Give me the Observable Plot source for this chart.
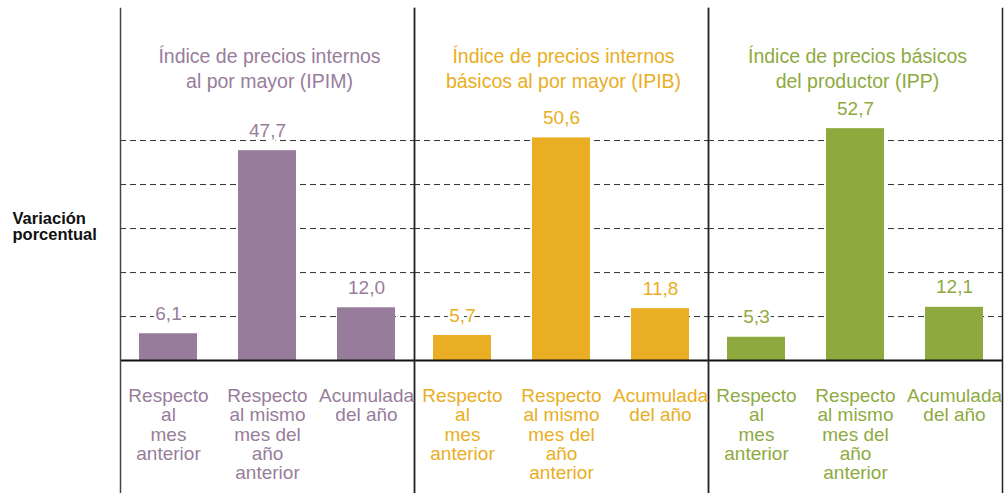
<!DOCTYPE html>
<html>
<head>
<meta charset="utf-8">
<script src="https://cdn.jsdelivr.net/npm/d3@7"></script>
<script src="https://cdn.jsdelivr.net/npm/@observablehq/plot@0.6"></script>
<style>
  html, body { margin: 0; padding: 0; background: #fff; }
  #chart { width: 1008px; height: 493px; }
</style>
</head>
<body>
<div id="chart"></div>
<script>
// ---- Data ----
const panels = ["IPIM", "IPIB", "IPP"];
const panelTitles = [
  "Índice de precios internos\nal por mayor (IPIM)",
  "Índice de precios internos\nbásicos al por mayor (IPIB)",
  "Índice de precios básicos\ndel productor (IPP)"
];
const panelColors = ["#977d9b", "#e9ae24", "#8eaa3f"];
const categories = [
  "Respecto\nal\nmes\nanterior",
  "Respecto\nal mismo\nmes del\naño\nanterior",
  "Acumulada\ndel año"
];
const ipimValues = [6.1, 47.7, 12.0];
const ipibValues = [5.7, 50.6, 11.8];
const ippValues = [5.3, 52.7, 12.1];
const gridTicks = [10, 20, 30, 40, 50];
const yLabel = "Variación\nporcentual";

// ---- Table built from arrays ----
const seriesValues = [ipimValues, ipibValues, ippValues];
const rows = [];
panels.forEach((p, i) => {
  categories.forEach((c, j) => {
    rows.push({panel: p, category: c, value: seriesValues[i][j]});
  });
});
const fmt = v => v.toFixed(1).replace(".", ",");
const font = "'Liberation Sans', Arial, Helvetica, sans-serif";

const chart = Plot.plot({
  width: 1008,
  height: 493,
  marginTop: 8,
  marginBottom: 0,
  marginLeft: 120,
  marginRight: 6,
  style: {fontFamily: font, background: "white"},
  fx: {domain: panels, padding: 0, axis: null},
  x: {domain: categories, paddingInner: 0.414, paddingOuter: 0.19, axis: null},
  y: {domain: [-30.2, 80], axis: null},
  color: {domain: panels, range: panelColors},
  marks: [
    Plot.ruleY(gridTicks, {stroke: "#333", strokeWidth: 1, strokeDasharray: "6,4"}),
    Plot.barY(rows, {fx: "panel", x: "category", y: "value", fill: "panel"}),
    Plot.ruleY([0], {stroke: "#111", strokeWidth: 2}),
    Plot.frame({anchor: "left", stroke: "#444", strokeWidth: 1.5}),
    Plot.frame({anchor: "right", stroke: "#222", strokeWidth: 1.5}),
    Plot.text(rows, {
      fx: "panel", x: "category", y: "value", text: d => fmt(d.value),
      lineAnchor: "bottom", dy: -14, fill: "panel", fontSize: 19,
      stroke: "white", strokeWidth: 5, paintOrder: "stroke"
    }),
    Plot.text(rows, {
      fx: "panel", x: "category", y: () => 0, text: "category",
      lineAnchor: "top", dy: 28, fill: "panel", fontSize: 19, lineHeight: 1.01
    }),
    Plot.text(panels, {
      fx: d => d, fill: d => d, text: (d, i) => panelTitles[i],
      frameAnchor: "top", lineAnchor: "top", dy: 37, dx: 2,
      fontSize: 19.5, lineHeight: 1.26
    }),
    Plot.text([panels[0]], {
      fx: d => d, text: () => yLabel,
      frameAnchor: "left", textAnchor: "start", dx: -108, dy: -24,
      fontSize: 16.5, fontWeight: "bold", lineHeight: 0.98, fill: "#111"
    })
  ]
});
document.getElementById("chart").appendChild(chart);
</script>
</body>
</html>
